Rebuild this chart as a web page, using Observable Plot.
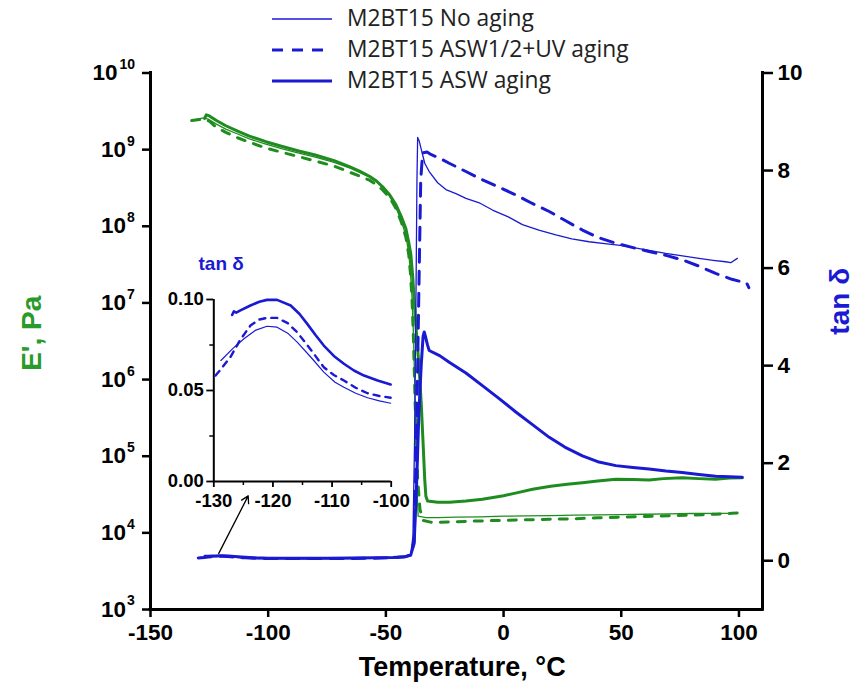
<!DOCTYPE html>
<html><head><meta charset="utf-8">
<script src="https://cdn.jsdelivr.net/npm/d3@7"></script>
<script src="https://cdn.jsdelivr.net/npm/@observablehq/plot@0.6"></script>
<style>
html,body{margin:0;padding:0;background:#fff;}
#wrap{position:relative;width:856px;height:693px;overflow:hidden;background:#fff;}
#wrap svg{position:absolute;}
.leg{position:absolute;font-family:'Open Sans',sans-serif;font-size:22.8px;color:#222;white-space:nowrap;line-height:26px;}
</style></head><body><div id="wrap"></div>
<script>
// ---------- data ----------
const tempTicks = [-150, -100, -50, 0, 50, 100];
const eExponents = [3, 4, 5, 6, 7, 8, 9, 10];
const tanTicks = [0, 2, 4, 6, 8, 10];
const insetTempTicks = [-130, -120, -110, -100];
const insetTempMinor = [-125, -115, -105];
const insetTanTicks = [0, 0.05, 0.10];
const insetTanMinor = [0.025, 0.075];
const legendLabels = ["M2BT15 No aging", "M2BT15 ASW1/2+UV aging", "M2BT15 ASW aging"];

// E' (Pa) – storage modulus
const eNoAging_T = [-132.5,-130,-127.5,-125.5,-122,-118,-113,-108,-101,-94,-87,-80,-72,-65.5,-61,-57,-54,-51.5,-48.5,-45.7,-43.5,-41.5,-40.3,-39.6,-38.9,-38.3,-37.8,-37.3,-36.8,-36.3,-33,-28,-20,-10,0,10,20,30,40,50,60,70,80,90,97];
const eNoAging_V = [2.4e9,2.5e9,2.6e9,2.5e9,2.15e9,1.85e9,1.6e9,1.38e9,1.18e9,1.02e9,9.0e8,8.0e8,6.8e8,5.8e8,5.0e8,4.4e8,3.85e8,3.25e8,2.5e8,1.75e8,1.2e8,7.5e7,4.5e7,2.6e7,1.2e7,4e6,1e6,2e5,4e4,1.65e4,1.58e4,1.58e4,1.6e4,1.62e4,1.65e4,1.67e4,1.68e4,1.7e4,1.72e4,1.73e4,1.75e4,1.77e4,1.79e4,1.8e4,1.8e4];

const eUV_T = [-132.5,-130,-127.5,-125,-122,-118,-113,-108,-101,-94,-87,-80,-72,-65.5,-61,-57,-54,-51.5,-48.5,-45.7,-43.5,-41.5,-40.3,-39.6,-38.9,-38.3,-37.8,-37.2,-36.5,-35.5,-34,-31,-28.7,-20,-10,0,10,19.4,30,40,50,60,70,80,90,97,102.8];
const eUV_V = [2.4e9,2.45e9,2.5e9,2.35e9,1.95e9,1.68e9,1.43e9,1.25e9,1.05e9,9.2e8,8.1e8,7.1e8,6.1e8,5.1e8,4.5e8,4.0e8,3.5e8,3.0e8,2.4e8,1.7e8,1.15e8,7.2e7,4.3e7,2.5e7,1.1e7,3.5e6,9e5,2e5,5e4,2e4,1.45e4,1.38e4,1.37e4,1.4e4,1.43e4,1.46e4,1.48e4,1.5e4,1.53e4,1.57e4,1.6e4,1.64e4,1.67e4,1.7e4,1.75e4,1.8e4,1.85e4];

const eASW_T = [-127,-126.3,-125,-122,-118,-113,-108,-101,-94,-87,-80,-72,-65.5,-61,-57,-54,-51.5,-48.5,-45.7,-43.5,-41.5,-40.3,-39.4,-38.6,-37.8,-37,-36,-35,-34.2,-33.5,-33,-32.3,-28,-23,-16,-9,0,6,12.3,20,27,33.5,40,47.7,55,61.8,68,75.8,83,90,96,101.4];
const eASW_V = [2.55e9,2.85e9,2.75e9,2.4e9,2.05e9,1.75e9,1.5e9,1.27e9,1.1e9,9.6e8,8.5e8,7.2e8,6.0e8,5.2e8,4.5e8,3.9e8,3.3e8,2.6e8,1.9e8,1.35e8,9.3e7,6.2e7,4.3e7,2.2e7,9e6,4e6,1.6e6,5e5,1.5e5,5e4,3e4,2.6e4,2.5e4,2.5e4,2.6e4,2.75e4,3.05e4,3.35e4,3.7e4,4.05e4,4.3e4,4.5e4,4.75e4,5.0e4,4.95e4,4.9e4,5.1e4,5.25e4,5.1e4,5.0e4,5.2e4,5.25e4];

// tan delta
const tNoAging_T = [-128.8,-126.8,-124.9,-123,-121,-119.3,-117.5,-115.9,-113.5,-111.4,-109.5,-108,-106,-104,-102,-100.1,-95,-85,-75,-65,-55,-47,-42,-39.5,-38.5,-37.8,-37.2,-36.8,-36.5,-35.8,-35.1,-33.5,-31.6,-28,-24.5,-20,-16,-10,-4.7,2,8,15,22.2,29,36.3,43,50.5,60,68.9,76,83,89,94.3,96.5,99.3];
const tNoAging_V = [0.0665,0.073,0.0784,0.083,0.0853,0.0848,0.0815,0.0766,0.068,0.0601,0.0545,0.0518,0.0485,0.046,0.0443,0.043,0.042,0.041,0.042,0.045,0.05,0.06,0.08,0.12,0.5,2.5,5.5,7.8,8.68,8.6,8.46,8.15,7.98,7.75,7.61,7.52,7.43,7.33,7.19,7.05,6.89,6.78,6.68,6.6,6.54,6.5,6.46,6.38,6.3,6.25,6.2,6.16,6.13,6.11,6.2];

const tUV_T = [-129.7,-128.5,-127.2,-125.5,-123.8,-122.3,-121,-119.3,-117.5,-115.9,-113.5,-111.4,-109.7,-108,-106,-104,-102,-100.1,-95,-85,-75,-65,-55,-47,-42,-39.5,-38,-37,-36,-35.2,-34.4,-32.5,-30.9,-27,-23.1,-16,-9,-2,5.2,12,19.4,26,33.5,40,47.7,55,61.8,69,75.9,83,90.1,97,101,103.2,104.2];
const tUV_V = [0.0582,0.063,0.0683,0.078,0.0857,0.089,0.0899,0.0899,0.087,0.082,0.072,0.0628,0.0585,0.0555,0.0515,0.0485,0.047,0.046,0.044,0.043,0.044,0.047,0.053,0.062,0.08,0.12,0.4,2.5,5.5,7.8,8.36,8.38,8.33,8.25,8.15,7.98,7.81,7.66,7.5,7.33,7.16,6.98,6.78,6.63,6.51,6.42,6.34,6.26,6.17,6.04,5.89,5.77,5.72,5.7,5.6];

const tASW_T = [-126.9,-126.6,-126.2,-125.5,-123.8,-122.3,-121,-119.3,-117,-115.5,-114.2,-112.8,-111.4,-109.7,-108,-106.3,-104.6,-102.3,-100.1,-95,-85,-75,-65,-55,-47,-42,-39.5,-38,-37,-36,-35,-34.2,-33.7,-33.2,-32.3,-31.6,-27,-23.1,-16,-9,-2,5.2,12,19.4,26,33.5,40,47.7,55,61.8,69,75.9,83,90.1,96,101.4];
const tASW_V = [0.0915,0.0935,0.0928,0.094,0.0967,0.0988,0.0998,0.0998,0.0967,0.092,0.0866,0.0805,0.0747,0.069,0.0647,0.061,0.0582,0.0555,0.0533,0.052,0.052,0.053,0.056,0.06,0.068,0.08,0.11,0.35,1.5,3.0,4.0,4.6,4.69,4.6,4.42,4.31,4.2,4.07,3.85,3.59,3.33,3.05,2.8,2.53,2.33,2.15,2.03,1.95,1.91,1.88,1.84,1.81,1.77,1.73,1.72,1.71];

// arrow annotation (temperature, tan delta)
const arrowFrom = {T: -121, tan: 0.15};
const arrowTo = {T: -108.5, tan: 1.33};

// ---------- helpers ----------
const GREEN = "#1f8c1f", GREEN_LABEL = "#2a9a2a", BLUE = "#1a1ad2";
const rows = (T, V) => T.map((t, i) => ({T: t, v: V[i]}));
const tanToY = t => Math.pow(10, 3 + (t + 1) * 7 / 11);

const eNo = rows(eNoAging_T, eNoAging_V), eUv = rows(eUV_T, eUV_V), eAsw = rows(eASW_T, eASW_V);
const tNo = rows(tNoAging_T, tNoAging_V), tUv = rows(tUV_T, tUV_V), tAsw = rows(tASW_T, tASW_V);

const wrap = document.getElementById("wrap");

const main = Plot.plot({
  width: 856, height: 693,
  marginLeft: 150, marginRight: 94, marginTop: 72.5, marginBottom: 84,
  x: {domain: [-150, 110]},
  y: {type: "log", domain: [1e3, 1e10]},
  style: {fontFamily: "'Liberation Sans', Arial, sans-serif", fontSize: "22.5px", fontWeight: "bold", color: "black", background: "transparent", overflow: "visible"},
  marks: [
    Plot.axisX(tempTicks, {tickFormat: d => String(d), tickSize: 8, tickPadding: 7, strokeWidth: 2.5, label: null}),
    Plot.axisY(eExponents.filter(e => e < 10).map(e => 10 ** e), {anchor: "left", tickFormat: () => "10", tickSize: 8, tickPadding: 16.5, strokeWidth: 2.5, label: null}),
    Plot.axisY(eExponents.filter(e => e >= 10).map(e => 10 ** e), {anchor: "left", tickFormat: () => "10", tickSize: 8, tickPadding: 25, strokeWidth: 2.5, label: null}),
    Plot.text(eExponents.filter(e => e < 10), {y: e => 10 ** e, text: e => String(e), frameAnchor: "left", textAnchor: "start", dx: -23.5, dy: -8.5, fontSize: 14}),
    Plot.text(eExponents.filter(e => e >= 10), {y: e => 10 ** e, text: e => String(e), frameAnchor: "left", textAnchor: "start", dx: -31, dy: -8.5, fontSize: 14}),
    Plot.axisY(tanTicks.map(tanToY), {anchor: "right", text: null, tickSize: 10, strokeWidth: 2.5, label: null}),
    Plot.text(tanTicks, {y: t => tanToY(t), text: t => String(t), frameAnchor: "right", textAnchor: "start", dx: 15}),
    Plot.ruleX([-150], {strokeWidth: 3, strokeLinecap: "square"}),
    Plot.ruleX([110], {strokeWidth: 3, strokeLinecap: "square"}),
    Plot.ruleY([1e3], {strokeWidth: 3, strokeLinecap: "square"}),
    // storage modulus
    Plot.line(eNo, {x: "T", y: "v", stroke: GREEN, strokeWidth: 1.3}),
    Plot.line(eUv, {x: "T", y: "v", stroke: GREEN, strokeWidth: 3, strokeDasharray: "8,9"}),
    Plot.line(eAsw, {x: "T", y: "v", stroke: GREEN, strokeWidth: 3}),
    // tan delta
    Plot.line(tNo, {x: "T", y: d => tanToY(d.v), stroke: BLUE, strokeWidth: 1.3}),
    Plot.line(tUv, {x: "T", y: d => tanToY(d.v), stroke: BLUE, strokeWidth: 3, strokeDasharray: "13,9"}),
    Plot.line(tAsw, {x: "T", y: d => tanToY(d.v), stroke: BLUE, strokeWidth: 3}),
    // arrow
    Plot.arrow([{a: arrowFrom, b: arrowTo}], {x1: d => d.a.T, y1: d => tanToY(d.a.tan), x2: d => d.b.T, y2: d => tanToY(d.b.tan), stroke: "black", strokeWidth: 1.3, headLength: 9}),
    // titles
    Plot.text(["Temperature, °C"], {text: d => d, frameAnchor: "bottom", lineAnchor: "bottom", dx: 5.7, dy: 66, fontSize: 27}),
    Plot.text(["E', Pa"], {text: d => d, frameAnchor: "left", textAnchor: "middle", lineAnchor: "middle", rotate: -90, dx: -118, dy: -8, fontSize: 28, fill: GREEN_LABEL}),
    Plot.text(["tan δ"], {text: d => d, frameAnchor: "right", textAnchor: "middle", lineAnchor: "middle", rotate: -90, dx: 78, dy: -40, fontSize: 28, fill: BLUE})
  ]
});
main.style.left = "0px"; main.style.top = "0px";
wrap.appendChild(main);

// ---------- inset ----------
const inset = Plot.plot({
  width: 260, height: 260,
  marginLeft: 63.3, marginRight: 19.3, marginTop: 39, marginBottom: 39,
  x: {domain: [-130, -100]},
  y: {domain: [0, 0.10]},
  style: {fontFamily: "'Liberation Sans', Arial, sans-serif", fontSize: "18.5px", fontWeight: "bold", color: "black", background: "transparent", overflow: "visible"},
  marks: [
    Plot.axisX(insetTempTicks, {tickFormat: d => String(d), tickSize: 6, tickPadding: 6, strokeWidth: 1.8, label: null}),
    Plot.axisX(insetTempMinor, {tickSize: 4, text: null, strokeWidth: 1.5, label: null}),
    Plot.axisY(insetTanTicks, {tickFormat: d => d.toFixed(2), tickSize: 7, tickPadding: 3, strokeWidth: 1.8, label: null}),
    Plot.axisY(insetTanMinor, {tickSize: 4, text: null, strokeWidth: 1.5, label: null}),
    Plot.ruleX([-130], {strokeWidth: 2}),
    Plot.ruleY([0], {strokeWidth: 2}),
    Plot.line(tNo.filter(d => d.T <= -100), {x: "T", y: "v", stroke: BLUE, strokeWidth: 1.2}),
    Plot.line(tUv.filter(d => d.T <= -100), {x: "T", y: "v", stroke: BLUE, strokeWidth: 2.4, strokeDasharray: "6,6"}),
    Plot.line(tAsw.filter(d => d.T <= -100), {x: "T", y: "v", stroke: BLUE, strokeWidth: 2.6}),
    Plot.text(["tan δ"], {text: d => d, frameAnchor: "top-left", textAnchor: "start", lineAnchor: "bottom", dx: -15.3, dy: -30, fontSize: 19, fill: BLUE})
  ]
});
inset.style.left = "150px"; inset.style.top = "260px";
wrap.appendChild(inset);

// ---------- legend ----------
const legStyles = [
  {w: 1.5, dash: null},
  {w: 3, dash: "11,9"},
  {w: 3, dash: null}
];
const legY = [19, 50, 81];
legendLabels.forEach((lab, i) => {
  const ns = "http://www.w3.org/2000/svg";
  const s = document.createElementNS(ns, "svg");
  s.setAttribute("width", 62); s.setAttribute("height", 10);
  s.style.left = "271px"; s.style.top = (legY[i] - 5) + "px";
  const l = document.createElementNS(ns, "line");
  l.setAttribute("x1", 1); l.setAttribute("x2", 61); l.setAttribute("y1", 5); l.setAttribute("y2", 5);
  l.setAttribute("stroke", BLUE); l.setAttribute("stroke-width", legStyles[i].w);
  if (legStyles[i].dash) l.setAttribute("stroke-dasharray", legStyles[i].dash);
  s.appendChild(l);
  wrap.appendChild(s);
  const t = document.createElement("div");
  t.className = "leg"; t.textContent = lab;
  t.style.left = "347px"; t.style.top = (legY[i] - 14) + "px";
  wrap.appendChild(t);
});
</script>
</body></html>
